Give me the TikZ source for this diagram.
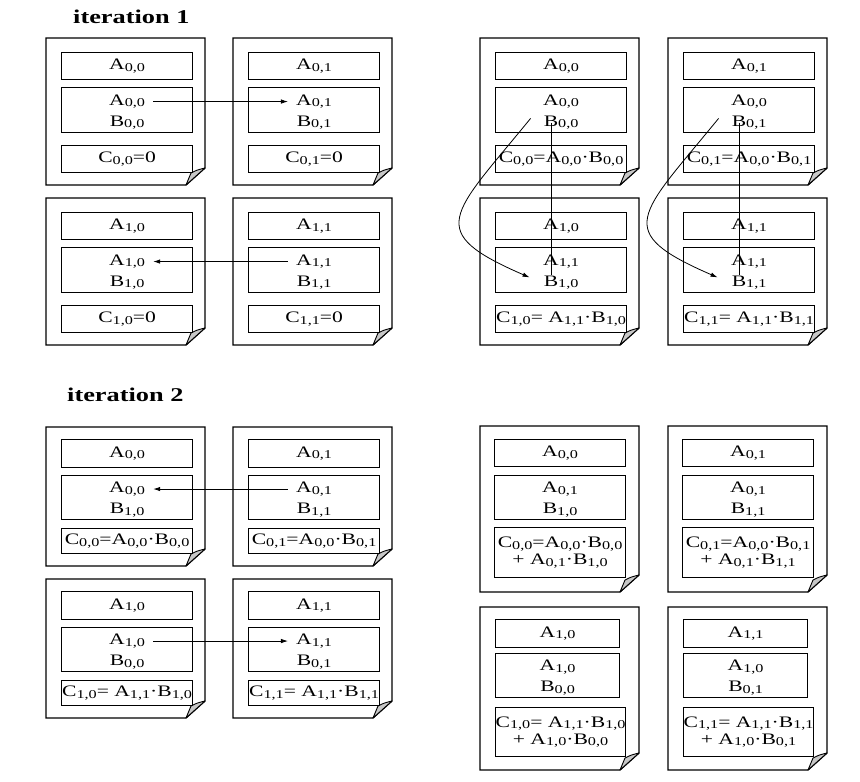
\documentclass[tikz,border=0pt]{standalone}
\usepackage{fontspec}
\setmainfont{Liberation Serif}[FakeStretch=1.35]
\usetikzlibrary{arrows.meta}
\newcommand\sbs[1]{\raisebox{-1.6pt}{\fontsize{12}{12}\selectfont #1}}
\def\pw{159}\def\ph{147}\def\bxo{15}\def\bw{131}
\def\ya{14}\def\ha{27}\def\yb{49}\def\hb{45}\def\yc{107}\def\hc{27}
\tikzset{
 pageline/.style={draw=black, line width=1.3pt, fill=white},
 fold/.style={fill=black!22, draw=black, line width=0.9pt, line join=round},
 bx/.style={draw=black, line width=1.2pt, fill=white, inner sep=0pt, anchor=north west,
   minimum width=\bw, align=center, font=\fontsize{16}{17}\selectfont},
 ln/.style={inner sep=0pt, anchor=base, font=\fontsize{16}{17}\selectfont},
 arr/.style={line width=0.8pt, -{Latex[length=7pt,width=4.5pt]}},
 conn/.style={line width=0.8pt},
 ttl/.style={anchor=base west, inner sep=0pt, font=\fontsize{19.5}{19.5}\selectfont\bfseries},
}
\newcommand\pageframe[2]{%
  \draw[pageline] (#1,#2) -- (#1+\pw,#2) -- (#1+\pw,#2+\ph-17) -- (#1+\pw-19,#2+\ph) -- (#1,#2+\ph) -- cycle;
  \draw[fold] (#1+\pw-19,#2+\ph) .. controls (#1+\pw-17,#2+\ph-6) .. (#1+\pw-14,#2+\ph-12)
     .. controls (#1+\pw-8,#2+\ph-15) .. (#1+\pw,#2+\ph-17) -- cycle;
}
\newcommand\pg[7]{%
  \pageframe{#2}{#3}
  \node[bx, minimum height=\ha] (#1t) at (#2+\bxo,#3+\ya) {#4};
  \node[bx, minimum height=\hb] (#1m) at (#2+\bxo,#3+\yb) {};
  \node[ln] (#1a) at ([yshift=5pt]#1m.center) {#5};
  \node[ln] (#1b) at ([yshift=-16pt]#1m.center) {#6};
  \node[bx, minimum height=\hc] (#1c) at (#2+\bxo,#3+\yc) {#7};
}
\begin{document}
\begin{tikzpicture}[x=1pt,y=-1pt]
\useasboundingbox[fill=white] (0,0) rectangle (860,782);
\node[ttl] (it1) at (73,23) {iteration 1};
\node[ttl] (it2) at (67,401) {iteration 2};
% iteration 1, left
\pg{tlA}{46}{38}{A\sbs{0,0}}{A\sbs{0,0}}{B\sbs{0,0}}{C\sbs{0,0}=0}
\pg{tlB}{233}{38}{A\sbs{0,1}}{A\sbs{0,1}}{B\sbs{0,1}}{C\sbs{0,1}=0}
\pg{tlC}{46}{198}{A\sbs{1,0}}{A\sbs{1,0}}{B\sbs{1,0}}{C\sbs{1,0}=0}
\pg{tlD}{233}{198}{A\sbs{1,1}}{A\sbs{1,1}}{B\sbs{1,1}}{C\sbs{1,1}=0}
% iteration 1, right
\pg{trA}{480}{38}{A\sbs{0,0}}{A\sbs{0,0}}{B\sbs{0,0}}{C\sbs{0,0}=A\sbs{0,0}·B\sbs{0,0}}
\pg{trB}{668}{38}{A\sbs{0,1}}{A\sbs{0,0}}{B\sbs{0,1}}{C\sbs{0,1}=A\sbs{0,0}·B\sbs{0,1}}
\pg{trC}{480}{198}{A\sbs{1,0}}{A\sbs{1,1}}{B\sbs{1,0}}{C\sbs{1,0}= A\sbs{1,1}·B\sbs{1,0}}
\pg{trD}{668}{198}{A\sbs{1,1}}{A\sbs{1,1}}{B\sbs{1,1}}{C\sbs{1,1}= A\sbs{1,1}·B\sbs{1,1}}
% iteration 2, left
\def\ph{139}\def\ya{12}\def\ha{28}\def\yb{48}\def\hb{44}\def\yc{101}\def\hc{25}
\pg{blA}{46}{427}{A\sbs{0,0}}{A\sbs{0,0}}{B\sbs{1,0}}{C\sbs{0,0}=A\sbs{0,0}·B\sbs{0,0}}
\pg{blB}{233}{427}{A\sbs{0,1}}{A\sbs{0,1}}{B\sbs{1,1}}{C\sbs{0,1}=A\sbs{0,0}·B\sbs{0,1}}
\pg{blC}{46}{579}{A\sbs{1,0}}{A\sbs{1,0}}{B\sbs{0,0}}{C\sbs{1,0}= A\sbs{1,1}·B\sbs{1,0}}
\pg{blD}{233}{579}{A\sbs{1,1}}{A\sbs{1,1}}{B\sbs{0,1}}{C\sbs{1,1}= A\sbs{1,1}·B\sbs{1,1}}
% iteration 2, right
\def\ph{166}\def\bxo{14}\def\ya{13}\def\ha{27}\def\yb{49}\def\hb{44}\def\yc{101}\def\hc{50}
\pg{brA}{480}{426}{A\sbs{0,0}}{A\sbs{0,1}}{B\sbs{1,0}}{C\sbs{0,0}=A\sbs{0,0}·B\sbs{0,0}\\+ A\sbs{0,1}·B\sbs{1,0}}
\pg{brB}{668}{426}{A\sbs{0,1}}{A\sbs{0,1}}{B\sbs{1,1}}{C\sbs{0,1}=A\sbs{0,0}·B\sbs{0,1}\\+ A\sbs{0,1}·B\sbs{1,1}}
\def\ph{163}\def\bxo{15}\def\bw{124}\def\ya{12}\def\ha{28}\def\yb{46}\def\hb{44}\def\yc{100}\def\hc{49}
\pg{brC}{480}{607}{A\sbs{1,0}}{A\sbs{1,0}}{B\sbs{0,0}}{C\sbs{1,0}= A\sbs{1,1}·B\sbs{1,0}\\+ A\sbs{1,0}·B\sbs{0,0}}
\pg{brD}{668}{607}{A\sbs{1,1}}{A\sbs{1,0}}{B\sbs{0,1}}{C\sbs{1,1}= A\sbs{1,1}·B\sbs{1,1}\\+ A\sbs{1,0}·B\sbs{0,1}}
% connectors
\draw[arr] ([xshift=8pt]tlAa.east) -- ([xshift=-8pt]tlBa.west);
\draw[arr] ([xshift=-8pt]tlDa.west) -- ([xshift=8pt]tlCa.east);
\draw[arr] ([xshift=-8pt]blBa.west) -- ([xshift=8pt]blAa.east);
\draw[arr] ([xshift=8pt]blCa.east) -- ([xshift=-8pt]blDa.west);
\draw[arr] ([xshift=-13pt,yshift=-3pt]trAb.north west) .. controls +(-80,98) and +(-106,-46) .. ([xshift=-14pt,yshift=-2pt]trCb.north west);
\draw[arr] ([xshift=-13pt,yshift=-3pt]trBb.north west) .. controls +(-80,98) and +(-106,-46) .. ([xshift=-14pt,yshift=-2pt]trDb.north west);
\draw[conn] ([xshift=8pt]trAb.west) -- ([xshift=8pt]trAb.west |- trCb.north);
\draw[conn] ([xshift=8pt]trBb.west) -- ([xshift=8pt]trBb.west |- trDb.north);
\end{tikzpicture}
\end{document}
